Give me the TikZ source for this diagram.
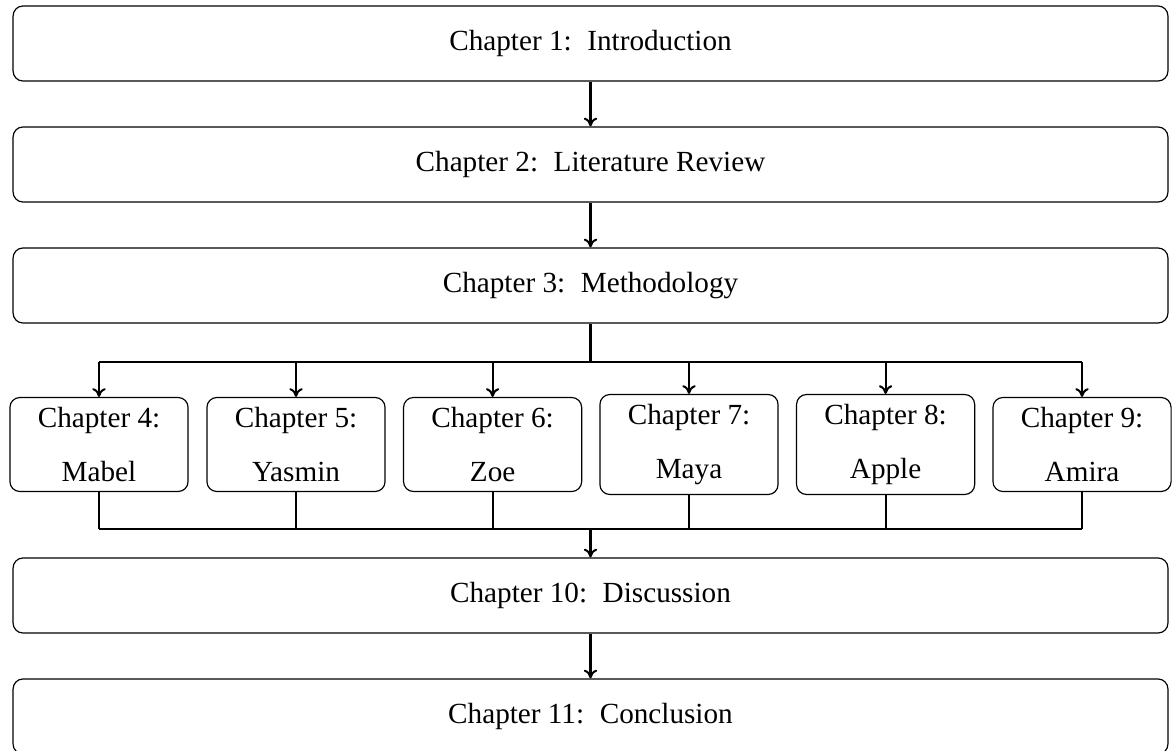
\documentclass[tikz,border=0pt]{standalone}
\usepackage{fontspec}
\setmainfont{Liberation Serif}
\usetikzlibrary{arrows.meta}
\newcommand{\cgap}{\hspace{0.2em}}
\begin{document}
\begin{tikzpicture}[x=0.34247pt,y=-0.34247pt,
  bigbox/.style={draw,rounded corners=3.4pt,minimum width=395.5pt,minimum height=25.7pt,inner sep=0pt,font=\fontsize{10}{12}\selectfont},
  smallbox/.style={draw,rounded corners=3.4pt,minimum width=61pt,inner sep=3.33pt,align=center,font=\fontsize{10}{12}\selectfont},
  link/.style={line width=0.7pt},
  arr/.style={line width=0.7pt,-{To[length=3pt,width=4.6pt]}}]
\useasboundingbox (0,0) rectangle (1173,750);
\node[bigbox] (c1) at (590.5,43.5) {Chapter 1: \cgap Introduction};
\node[bigbox] (c2) at (590.5,164.5) {Chapter 2: \cgap Literature Review};
\node[bigbox] (c3) at (590.5,285.5) {Chapter 3: \cgap Methodology};
\node[smallbox] (c4) at (99,444.5) {Chapter 4:\\[6.5pt]Mabel};
\node[smallbox] (c5) at (296,444.5) {Chapter 5:\\[6.5pt]Yasmin};
\node[smallbox] (c6) at (492.6,444.5) {Chapter 6:\\[6.5pt]Zoe};
\node[smallbox] (c7) at (689,444.5) {Chapter 7:\\[6.5pt]Maya};
\node[smallbox] (c8) at (885.6,444.5) {Chapter 8:\\[6.5pt]Apple};
\node[smallbox] (c9) at (1082,444.5) {Chapter 9:\\[6.5pt]Amira};
\node[bigbox] (c10) at (590.5,595.5) {Chapter 10: \cgap Discussion};
\node[bigbox] (c11) at (590.5,716.5) {Chapter 11: \cgap Conclusion};
\coordinate (br) at (590.5,362);
\coordinate (mg) at (590.5,529);
\draw[arr] (c1) -- (c2);
\draw[arr] (c2) -- (c3);
\draw[link] (c3.south) -- (br);
\draw[link] (c4.north |- br) -- (c9.north |- br);
\foreach \n in {c4,c5,c6,c7,c8,c9} {
  \draw[arr] (\n.north |- br) -- (\n.north);
  \draw[link] (\n.south) -- (\n.south |- mg);
}
\draw[link] (c4.south |- mg) -- (c9.south |- mg);
\draw[arr] (mg) -- (c10.north);
\draw[arr] (c10) -- (c11);
\end{tikzpicture}
\end{document}
